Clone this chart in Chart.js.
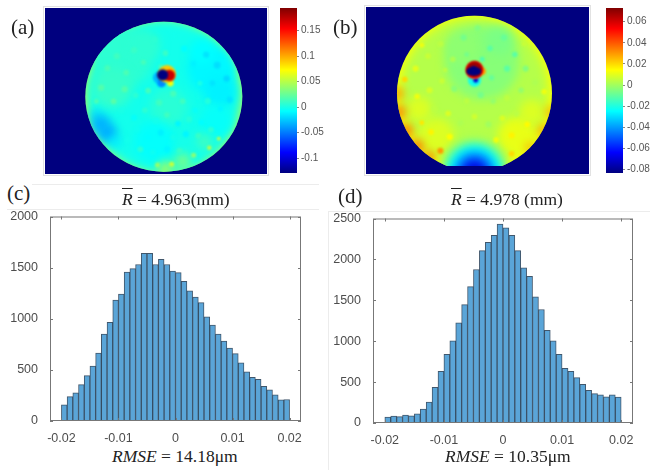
<!DOCTYPE html>
<html lang="en">
<head>
<meta charset="UTF-8">
<title>Fitting residual maps and histograms</title>
<script src="https://cdn.jsdelivr.net/npm/chart.js"></script>
<style>
  html, body { margin: 0; background: #fff; }
  body { position: relative; width: 650px; height: 470px; overflow: hidden; }
  canvas { position: absolute; }
  .t { position: absolute; font-family: "Liberation Serif", serif; white-space: nowrap; color: #222; line-height: 1; }
  .tag { font-size: 21px; }
  .cap { font-size: 17.5px; }
  .line { position: absolute; background: #ececec; }
  .map { outline: 1px solid #e2e2e2; outline-offset: 1px; }
</style>
</head>
<body>
<div class="line" style="left:32px;top:184px;width:287px;height:1px"></div>
<div class="line" style="left:7px;top:209px;width:312px;height:1px"></div>
<div class="line" style="left:328px;top:211px;width:322px;height:1px"></div>
<div class="line" style="left:328px;top:211px;width:1px;height:259px"></div>

<canvas id="mapA" class="map" style="left:45px;top:8px;width:222px;height:166px"></canvas>
<canvas id="barA" style="left:275px;top:0;width:55px;height:181px"></canvas>
<canvas id="mapB" class="map" style="left:366px;top:7px;width:223px;height:167px"></canvas>
<canvas id="barB" style="left:601px;top:0;width:49px;height:181px"></canvas>
<canvas id="histC" style="left:5px;top:205px;width:310px;height:241px"></canvas>
<canvas id="histD" style="left:328px;top:207px;width:320px;height:241px"></canvas>

<div class="t tag" style="left:11px;top:17px">(a)</div>
<div class="t tag" style="left:333px;top:17px">(b)</div>
<div class="t tag" style="left:7px;top:183px">(c)</div>
<div class="t tag" style="left:338px;top:186px">(d)</div>
<div class="t cap" style="left:122px;top:191px"><i style="text-decoration:overline">R</i> = 4.963(mm)</div>
<div class="t cap" style="left:451px;top:191px"><i style="text-decoration:overline">R</i> = 4.978 (mm)</div>
<div class="t cap" style="left:112px;top:448px"><i>RMSE</i> = 14.18μm</div>
<div class="t cap" style="left:445px;top:448px"><i>RMSE</i> = 10.35μm</div>

<script>
// histogram counts, one per 0.001 wide bin from -0.02 to 0.02
const binCenters = [
  -0.0195, -0.0185, -0.0175, -0.0165, -0.0155, -0.0145, -0.0135, -0.0125, -0.0115, -0.0105,
  -0.0095, -0.0085, -0.0075, -0.0065, -0.0055, -0.0045, -0.0035, -0.0025, -0.0015, -0.0005,
  0.0005, 0.0015, 0.0025, 0.0035, 0.0045, 0.0055, 0.0065, 0.0075, 0.0085, 0.0095,
  0.0105, 0.0115, 0.0125, 0.0135, 0.0145, 0.0155, 0.0165, 0.0175, 0.0185, 0.0195
];
const countsC = [
  158, 239, 275, 355, 443, 536, 665, 850, 966, 1183,
  1241, 1457, 1490, 1531, 1641, 1641, 1531, 1580, 1531, 1467,
  1451, 1367, 1273, 1212, 1157, 1018, 937, 850, 782, 714,
  659, 569, 481, 427, 407, 339, 304, 255, 207, 210
];
const countsD = [
  73, 85, 77, 97, 89, 113, 170, 255, 437, 631,
  841, 1003, 1226, 1448, 1667, 1877, 2108, 2209, 2294, 2431,
  2387, 2294, 2108, 1897, 1792, 1541, 1388, 1133, 1003, 841,
  667, 631, 554, 473, 400, 360, 344, 320, 344, 316
];
const histXTicks = [-0.02, -0.01, 0, 0.01, 0.02];
const histYTicksC = [0, 500, 1000, 1500, 2000];
const histYTicksD = [0, 500, 1000, 1500, 2000, 2500];

// colour bar ranges and ticks
const rangeA = [-0.129, 0.194];
const rangeB = [-0.0834, 0.073];
const barTicksA = [-0.1, -0.05, 0, 0.05, 0.1, 0.15];
const barTicksB = [-0.08, -0.06, -0.04, -0.02, 0, 0.02, 0.04, 0.06];

// map patches: [x mm, y mm, radius mm, residual], painted in order
// "soft" ones are the slow surface trends, "fine" ones the speckle and the centre hole
const softA = [
  [0, 0, 6, 0.045], [0, 0, 4.9, -0.002],
  [-2.6, 2.6, 1.9, 0.006], [-3.3, 0.6, 1.3, 0.009], [-1.2, 3.4, 1.0, 0.006], [0.3, -0.7, 1.2, 0.005],
  [3.0, 1.8, 1.5, -0.01], [3.6, 0.3, 1.0, -0.012], [2.4, 3.0, 0.8, -0.008], [3.3, -1.6, 1.0, -0.006],
  [-0.6, -3.0, 1.3, -0.007], [1.7, -3.2, 0.9, -0.001], [2.6, -3.0, 0.5, 0.012], [1.2, -4.3, 0.5, 0.03], [0.1, -4.75, 0.4, 0.05],
  [-4.4, -1.2, 0.32, -0.018], [-4.05, -1.8, 0.6, -0.032], [-3.6, -2.4, 0.6, -0.034], [-3.1, -3.0, 0.35, -0.014]
];
const fineA = [
  [-3.6, 1.9, 0.18, 0.015], [-3.0, 2.7, 0.2, 0.012], [-2.4, 1.6, 0.18, 0.016], [-1.9, 3.1, 0.2, 0.01], [-1.3, 2.3, 0.16, 0.014],
  [-0.6, 3.8, 0.2, 0.006], [0.1, 2.9, 0.18, 0.01], [0.7, 4.1, 0.18, -0.002], [1.3, 3.2, 0.2, -0.008], [1.9, 2.2, 0.18, -0.012],
  [2.7, 2.8, 0.2, -0.016], [3.4, 2.1, 0.22, -0.018], [4.0, 1.2, 0.2, -0.02], [3.1, 0.9, 0.18, -0.016], [2.3, 0.9, 0.16, 0.0],
  [4.2, -0.2, 0.2, -0.016], [3.6, -0.8, 0.18, -0.01], [2.8, -0.3, 0.2, 0.003], [2.0, -0.9, 0.18, -0.005], [1.2, -0.3, 0.18, 0.012],
  [0.6, 0.2, 0.2, 0.014], [-0.3, -0.4, 0.2, 0.012], [-1.0, 0.4, 0.18, 0.014], [-1.8, 0.1, 0.18, 0.006], [-2.5, 0.5, 0.2, 0.018],
  [-3.2, -0.3, 0.18, 0.02], [-4.0, 0.6, 0.2, 0.018], [-4.3, -0.3, 0.16, 0.016], [-2.7, -0.9, 0.18, 0.0], [-1.9, -1.4, 0.2, -0.006],
  [-1.2, -0.9, 0.18, 0.006], [-0.5, -1.6, 0.2, -0.002], [0.2, -1.2, 0.18, 0.012], [0.9, -1.8, 0.18, -0.01], [1.6, -1.5, 0.2, 0.004],
  [2.4, -1.7, 0.18, -0.008], [3.0, -2.2, 0.18, 0.006], [2.2, -2.6, 0.18, 0.01], [1.4, -2.5, 0.2, -0.01], [0.6, -2.7, 0.18, -0.002],
  [-0.2, -2.4, 0.2, -0.012], [-1.0, -2.7, 0.18, -0.008], [-1.7, -2.2, 0.18, -0.003], [-2.3, -2.9, 0.2, -0.002], [-1.5, -3.5, 0.18, 0.006],
  [-0.7, -3.7, 0.18, -0.004], [0.2, -3.5, 0.2, -0.01], [1.0, -3.6, 0.18, 0.01], [1.9, -3.9, 0.16, 0.036], [2.9, -3.4, 0.14, 0.05],
  [0.5, -4.5, 0.16, 0.055], [-0.4, -4.55, 0.16, 0.04], [3.5, -2.8, 0.12, 0.05], [-0.2, 2.0, 0.16, 0.012], [0.9, 1.7, 0.16, -0.003],
  [-0.2, 1.0, 0.34, -0.012], [-0.35, 1.28, 0.35, -0.03], [-0.15, 0.92, 0.27, -0.045], [0.42, 0.9, 0.2, 0.07],
  [0.2, 1.52, 0.56, 0.09], [0.36, 1.42, 0.36, 0.17], [-0.08, 1.45, 0.36, -0.129]
];
const softB = [
  [0, 0, 6, 0.013], [0, 0.15, 4.75, 0.003], [0.5, 2.0, 2.4, -0.004], [-0.8, 3.0, 1.1, -0.003], [1.6, 3.4, 0.9, -0.006],
  [-2.5, -2.8, 1.2, 0.009], [2.8, -2.8, 1.3, 0.011], [-3.6, -1.0, 0.8, 0.009], [3.7, -1.2, 0.8, 0.009],
  [-4.95, 0.0, 0.36, 0.032], [-4.85, -1.2, 0.4, 0.036], [-4.4, -2.4, 0.4, 0.038], [-3.7, -3.4, 0.38, 0.04], [-2.9, -4.1, 0.3, 0.042],
  [4.9, -1.2, 0.3, 0.03], [4.45, -2.4, 0.32, 0.032], [3.6, -3.5, 0.28, 0.03],
  [0, -5.1, 2.25, 0.001], [0, -5.1, 1.95, -0.012], [0, -5.1, 1.7, -0.025], [0, -5.1, 1.35, -0.04], [0, -5.1, 0.95, -0.055], [0, -5.1, 0.6, -0.07]
];
const fineB = [
  [-3.8, 1.6, 0.2, 0.01], [-3.0, 2.4, 0.18, 0.006], [-2.2, 3.2, 0.2, 0.004], [-1.4, 2.2, 0.18, 0.002], [-0.7, 3.6, 0.2, -0.007],
  [0.2, 4.2, 0.2, -0.005], [1.0, 2.9, 0.18, -0.011], [1.9, 3.6, 0.2, -0.009], [2.6, 2.5, 0.18, -0.011], [3.3, 1.6, 0.2, -0.005],
  [2.1, 1.6, 0.2, -0.011], [1.1, 1.0, 0.18, -0.009], [3.9, 0.7, 0.2, 0.002], [3.0, 0.2, 0.18, -0.002], [2.1, -0.3, 0.2, 0.004],
  [1.2, -0.5, 0.18, -0.002], [0.4, -0.1, 0.2, -0.007], [-0.5, -0.5, 0.18, 0.004], [-1.3, 0.3, 0.2, -0.004], [-2.1, 0.8, 0.18, 0.006],
  [-2.9, 0.2, 0.2, 0.008], [-3.7, -0.2, 0.18, 0.012], [-2.6, -1.0, 0.2, 0.004], [-1.7, -1.3, 0.18, 0.009], [-0.9, -1.9, 0.2, 0.002],
  [0.0, -1.5, 0.18, 0.007], [0.9, -2.0, 0.2, 0.0], [1.8, -1.6, 0.18, 0.009], [2.7, -1.3, 0.2, 0.004], [3.4, -2.0, 0.18, 0.015],
  [2.4, -2.7, 0.2, 0.016], [-1.6, -2.8, 0.2, 0.014], [-2.8, -2.5, 0.18, 0.016], [-3.4, -1.9, 0.16, 0.018], [1.4, -3.0, 0.18, 0.012],
  [-0.5, 2.5, 0.16, -0.007], [0.5, 2.2, 0.16, -0.013], [-1.9, 1.5, 0.16, 0.004], [-4.5, 0.9, 0.18, 0.02], [4.5, 0.1, 0.18, 0.012],
  [-3.4, 3.1, 0.16, 0.012], [3.2, 3.2, 0.14, 0.006], [-2.2, -3.7, 0.2, 0.03], [2.4, -3.9, 0.18, 0.02],
  [0.0, 0.85, 0.42, -0.022], [0.08, 0.85, 0.16, -0.07],
  [0.5, 1.42, 0.24, 0.028], [0.0, 1.5, 0.58, 0.05], [0.0, 1.56, 0.5, 0.068],
  [-0.05, 1.45, 0.31, -0.0834], [0.2, 1.42, 0.22, -0.0834], [-0.3, 1.42, 0.22, -0.0834]
];

const jetStops = [
  [0, '#00007f'], [0.125, '#0000ff'], [0.375, '#00ffff'],
  [0.625, '#ffff00'], [0.875, '#ff0000'], [1, '#7f0000']
];

function jet(t) {
  const c = v => Math.round(255 * Math.max(0, Math.min(1, v)));
  return `rgb(${c(1.5 - Math.abs(4 * t - 3))},${c(1.5 - Math.abs(4 * t - 2))},${c(1.5 - Math.abs(4 * t - 1))})`;
}

// disk is clipped to an ellipse, each layer blurred by its own amount
const diskClip = {
  id: 'diskClip',
  beforeDatasetDraw(chart, args, opts) {
    const { ctx, scales: { x, y } } = chart;
    ctx.save();
    ctx.beginPath();
    ctx.ellipse(x.getPixelForValue(0), y.getPixelForValue(0), opts.rx, opts.ry, 0, 0, Math.PI * 2);
    ctx.clip();
    ctx.beginPath();
    ctx.rect(0, 0, chart.width, opts.cutY);
    ctx.clip();
    ctx.filter = args.index === 1 ? 'blur(5px)' : 'blur(0.9px)';
  },
  afterDatasetDraw(chart) {
    chart.ctx.restore();
  }
};

function drawMap(id, soft, fine, range, xr, yr, rx, ry, cutY) {
  const unit = rx / 5;
  const layer = patches => ({
    data: patches.map(p => ({ x: p[0], y: p[1], r: p[2], v: p[3] })),
    pointRadius: c => c.raw ? c.raw.r * unit : 0,
    pointBorderWidth: 0,
    pointBackgroundColor: c => c.raw ? jet((c.raw.v - range[0]) / (range[1] - range[0])) : '#000'
  });
  new Chart(document.getElementById(id), {
    type: 'scatter',
    // Chart.js paints the last dataset first, so soft goes underneath
    data: { datasets: [layer(fine), layer(soft)] },
    options: {
      responsive: false,
      animation: false,
      events: [],
      layout: { padding: 0, autoPadding: false },
      plugins: { legend: { display: false }, tooltip: { enabled: false }, diskClip: { rx, ry, cutY } },
      scales: {
        x: { display: false, min: xr[0], max: xr[1] },
        y: { display: false, min: yr[0], max: yr[1] }
      }
    },
    plugins: [diskClip, {
      id: 'navy',
      beforeDraw(chart) {
        chart.ctx.fillStyle = '#00007f';
        chart.ctx.fillRect(0, 0, chart.width, chart.height);
      }
    }]
  });
}

function drawColorBar(id, range, ticks, places) {
  new Chart(document.getElementById(id), {
    type: 'bar',
    data: {
      labels: [''],
      datasets: [{
        data: [range],
        barPercentage: 1,
        categoryPercentage: 1,
        backgroundColor: c => {
          const { ctx, chartArea } = c.chart;
          if (!chartArea) return '#00ffff';
          const g = ctx.createLinearGradient(0, chartArea.bottom, 0, chartArea.top);
          jetStops.forEach(s => g.addColorStop(s[0], s[1]));
          return g;
        }
      }]
    },
    options: {
      responsive: false,
      animation: false,
      events: [],
      layout: { padding: { left: places.left, top: 7, bottom: 7, right: 0 } },
      plugins: { legend: { display: false }, tooltip: { enabled: false } },
      scales: {
        x: { display: false },
        y: {
          position: 'right',
          min: range[0],
          max: range[1],
          afterBuildTicks: s => { s.ticks = ticks.map(v => ({ value: v })); },
          afterFit: s => { s.width = places.axis; },
          border: { display: false },
          grid: { drawOnChartArea: false, tickLength: 2, color: '#888' },
          ticks: {
            autoSkip: false,
            padding: 2,
            color: '#555',
            font: { family: '"Liberation Sans"', size: 10 },
            callback: v => String(v)
          }
        }
      }
    }
  });
}

// MATLAB style box with ticks pointing inwards
const boxTicks = {
  id: 'boxTicks',
  afterDatasetsDraw(chart) {
    const { ctx, chartArea: a, scales: { x, y } } = chart;
    ctx.save();
    ctx.strokeStyle = '#777';
    ctx.lineWidth = 1;
    ctx.strokeRect(a.left + 0.5, a.top + 0.5, a.width - 1, a.height - 1);
    ctx.beginPath();
    x.ticks.forEach(t => {
      const px = Math.round(x.getPixelForValue(t.value)) + 0.5;
      ctx.moveTo(px, a.bottom); ctx.lineTo(px, a.bottom - 3);
      ctx.moveTo(px, a.top); ctx.lineTo(px, a.top + 3);
    });
    y.ticks.forEach(t => {
      const py = Math.round(y.getPixelForValue(t.value)) + 0.5;
      ctx.moveTo(a.left, py); ctx.lineTo(a.left + 3, py);
      ctx.moveTo(a.right, py); ctx.lineTo(a.right - 3, py);
    });
    ctx.stroke();
    ctx.restore();
  }
};

function drawHist(id, counts, yTicks, yMax, padRight) {
  new Chart(document.getElementById(id), {
    type: 'bar',
    data: {
      datasets: [{
        data: binCenters.map((b, i) => ({ x: b, y: counts[i] })),
        backgroundColor: '#5aa5d8',
        borderColor: 'rgba(32,58,82,0.85)',
        borderWidth: 1,
        barPercentage: 1,
        categoryPercentage: 1
      }]
    },
    options: {
      responsive: false,
      animation: false,
      events: [],
      layout: { padding: { top: 10, right: padRight, left: 0, bottom: 0 } },
      plugins: { legend: { display: false }, tooltip: { enabled: false } },
      scales: {
        x: {
          type: 'linear',
          offset: false,
          min: -0.022,
          max: 0.022,
          afterBuildTicks: s => { s.ticks = histXTicks.map(v => ({ value: v })); },
          afterFit: s => { s.height = 25; },
          grid: { display: false },
          border: { display: false },
          ticks: {
            autoSkip: false, maxRotation: 0, padding: 2, color: '#4d4d4d',
            font: { family: '"Liberation Sans"', size: 12.5 },
            callback: v => String(v)
          }
        },
        y: {
          min: 0,
          max: yMax,
          afterBuildTicks: s => { s.ticks = yTicks.map(v => ({ value: v })); },
          afterFit: s => { s.width = 45; },
          grid: { display: false },
          border: { display: false },
          ticks: {
            autoSkip: false, padding: 4, color: '#4d4d4d',
            font: { family: '"Liberation Sans"', size: 12.5 },
            callback: v => String(v)
          }
        }
      }
    },
    plugins: [boxTicks]
  });
}

// canvas buffers have to match the css boxes
document.querySelectorAll('canvas').forEach(c => {
  c.width = parseInt(c.style.width);
  c.height = parseInt(c.style.height);
});

drawMap('mapA', softA, fineA, rangeA, [-7.58, 6.58], [-5.15, 5.91], 78.5, 75, 170);
drawMap('mapB', softB, fineB, rangeB, [-7.0, 7.39], [-5.2, 5.57], 77.5, 77.5, 159);
drawColorBar('barA', rangeA, barTicksA, { left: 5, axis: 33 });
drawColorBar('barB', rangeB, barTicksB, { left: 5, axis: 27 });
drawHist('histC', countsC, histYTicksC, 2000, 14);
drawHist('histD', countsD, histYTicksD, 2500, 15);
</script>
</body>
</html>
